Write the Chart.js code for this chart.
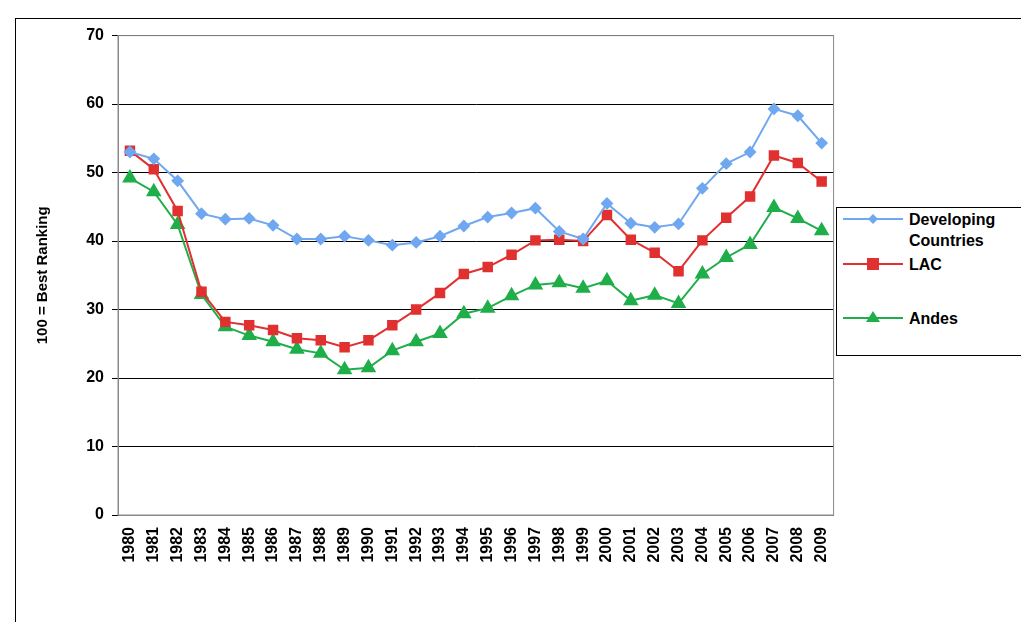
<!DOCTYPE html>
<html><head><meta charset="utf-8">
<script src="https://cdn.jsdelivr.net/npm/chart.js@4/dist/chart.umd.min.js"></script>
<style>
body{margin:0;background:#fff;font-family:"Liberation Sans",Arial,sans-serif;}
#frame{position:absolute;left:15px;top:18px;width:1010px;height:610px;border-left:1px solid #000;border-top:1px solid #000;}
#wrap{position:absolute;left:30px;top:18px;width:815px;height:584px;}
#legend{position:absolute;left:836px;top:207px;width:190px;height:147px;border:1px solid #000;background:#fff;font-weight:bold;font-size:16px;}
.item{position:absolute;left:0;}
.item svg{position:absolute;left:6px;}
.item span{position:absolute;left:72px;white-space:nowrap;line-height:21px;}
</style></head><body>
<div id="frame"></div>
<div id="wrap"><canvas id="c"></canvas></div>
<div id="legend">
 <div class="item" style="top:0px"><svg width="60" height="30"><line x1="0" y1="11" x2="60" y2="11" stroke="#6fa8f0" stroke-width="2"/><polygon points="30,6 35,11 30,16 25,11" fill="#6fa8f0"/></svg><span style="top:1px">Developing<br>Countries</span></div>
 <div class="item" style="top:48px"><svg width="60" height="30"><line x1="0" y1="8" x2="60" y2="8" stroke="#e03030" stroke-width="2"/><rect x="24" y="2" width="12" height="12" fill="#e03030"/></svg><span style="top:-2px">LAC</span></div>
 <div class="item" style="top:100px"><svg width="60" height="30"><line x1="0" y1="10" x2="60" y2="10" stroke="#1fae4a" stroke-width="2"/><polygon points="30,3 37,14 23,14" fill="#1fae4a"/></svg><span style="top:0px">Andes</span></div>
</div>
<script>
const years = [];
for (let y = 1980; y <= 2009; y++) years.push(String(y));
const developing = [53,52,48.8,44,43.2,43.3,42.3,40.3,40.3,40.7,40.1,39.4,39.8,40.7,42.2,43.5,44.1,44.8,41.4,40.3,45.5,42.6,42,42.5,47.7,51.3,53,59.3,58.3,54.3];
const lac = [53.2,50.5,44.4,32.6,28.2,27.7,27,25.8,25.5,24.5,25.5,27.7,30,32.4,35.2,36.2,38,40.1,40.2,40,43.8,40.2,38.3,35.6,40.1,43.4,46.5,52.5,51.4,48.7];
const andes = [49.2,47.2,42.4,32.2,27.5,26.2,25.3,24.2,23.6,21.2,21.5,24,25.3,26.5,29.4,30.2,32,33.6,33.9,33.1,34.2,31.3,32.1,30.9,35.2,37.6,39.5,44.9,43.3,41.5];

const font = {family:'"Liberation Sans", Arial, sans-serif', size:16, weight:'bold'};
const plotBorder = {id:'pb', afterDraw(ch){const a=ch.chartArea,c=ch.ctx;c.save();c.strokeStyle='#888';c.lineWidth=1;c.strokeRect(a.left,a.top,a.right-a.left,a.bottom-a.top);c.restore();}};

new Chart(document.getElementById('c'), {
  type:'line',
  data:{labels:years,datasets:[
    {label:'Developing Countries',data:developing,borderColor:'#6fa8f0',backgroundColor:'#6fa8f0',pointStyle:'rectRot',pointRadius:5,borderWidth:2},
    {label:'LAC',data:lac,borderColor:'#e03030',backgroundColor:'#e03030',pointStyle:'rect',pointRadius:6,borderWidth:2},
    {label:'Andes',data:andes,borderColor:'#1fae4a',backgroundColor:'#1fae4a',pointStyle:'triangle',pointRadius:7,borderWidth:2}
  ]},
  options:{responsive:true,maintainAspectRatio:false,animation:false,
    layout:{padding:{top:8,right:0}},
    plugins:{legend:{display:false},tooltip:{enabled:false}},
    scales:{
      x:{offset:true,grid:{display:false},border:{color:'#888'},ticks:{color:'#000',font,maxRotation:90,minRotation:90,padding:4},
         afterFit(s){s.height=87;}},
      y:{min:0,max:70,grid:{color:'#000',drawTicks:true,tickLength:6},border:{color:'#888'},
         ticks:{stepSize:10,color:'#000',font,padding:8},
         title:{display:true,text:'100 = Best Ranking',color:'#000',font:{...font,size:15},padding:{bottom:8}},
         afterFit(s){s.width=88;}}
    }},
  plugins:[plotBorder]
});
</script>
</body></html>
